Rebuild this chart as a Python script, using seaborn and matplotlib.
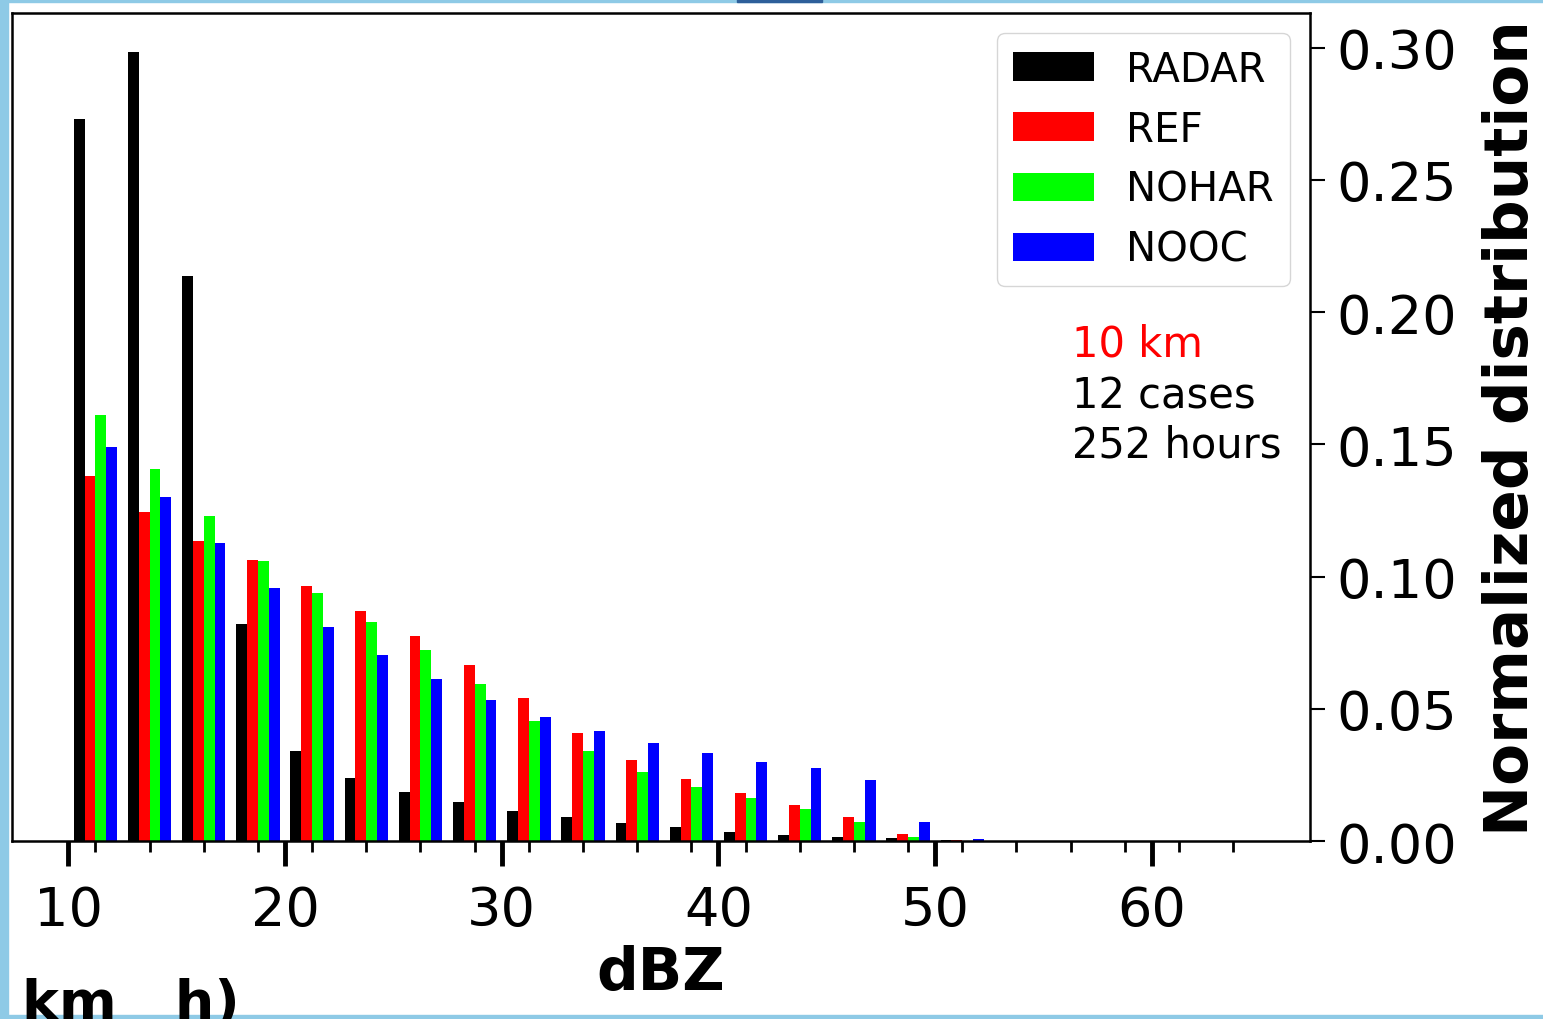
import pandas as pd
import numpy as np
import seaborn as sns
import matplotlib.pyplot as plt
from matplotlib.patches import Rectangle

# dBZ bins (left edge, 2.5 dBZ wide)
bins = [10, 12.5, 15, 17.5, 20, 22.5, 25, 27.5, 30, 32.5, 35,
        37.5, 40, 42.5, 45, 47.5, 50, 52.5, 55, 57.5, 60, 62.5]

radar = [0.273, 0.2985, 0.2138, 0.082, 0.0342, 0.0237, 0.0187, 0.0149, 0.0115, 0.0091, 0.0067,
         0.0052, 0.0033, 0.0023, 0.0014, 0.001, 0.0003, 0, 0, 0, 0, 0]
ref = [0.138, 0.1245, 0.1136, 0.1063, 0.0966, 0.0871, 0.0775, 0.0666, 0.0542, 0.0409, 0.0307,
       0.0235, 0.0182, 0.0136, 0.0089, 0.0025, 0.0002, 0, 0, 0, 0, 0]
nohar = [0.161, 0.1407, 0.123, 0.1058, 0.0938, 0.0828, 0.0723, 0.0594, 0.0455, 0.034, 0.026,
         0.0206, 0.0161, 0.0121, 0.0073, 0.0017, 0.0001, 0, 0, 0, 0, 0]
nooc = [0.149, 0.130, 0.1128, 0.0957, 0.081, 0.0704, 0.0613, 0.0535, 0.047, 0.0417, 0.0371,
        0.0332, 0.0298, 0.0275, 0.0231, 0.0073, 0.0006, 0.0001, 0, 0, 0, 0]

runs = ["RADAR", "REF", "NOHAR", "NOOC"]
colors = ["black", "red", "lime", "blue"]

centers = np.array(bins) + 1.25
data = pd.DataFrame({
    "dBZ": np.tile(centers, 4),
    "freq": radar + ref + nohar + nooc,
    "run": np.repeat(runs, len(bins)),
})

sns.set_style("ticks")
plt.rcParams["font.family"] = ["DejaVu Sans"]
plt.rcParams.update({"text.color": "black", "axes.labelcolor": "black",
                     "xtick.color": "black", "ytick.color": "black",
                     "axes.edgecolor": "black"})

fig = plt.figure(figsize=(15.43, 10.2), dpi=100)
ax = fig.add_axes([0.0078, 0.1745, 0.8412, 0.8115])

sns.barplot(data=data, x="dBZ", y="freq", hue="run", hue_order=runs,
            palette=colors, native_scale=True, width=0.8, dodge=True,
            errorbar=None, saturation=1, linewidth=0, ax=ax)

ax.set_xlim(7.4, 67.3)
ax.set_ylim(0, 0.313)
ax.set_xticks([10, 20, 30, 40, 50, 60])
ax.set_xticks(centers, minor=True)
ax.set_yticks([0, 0.05, 0.10, 0.15, 0.20, 0.25, 0.30])

ax.yaxis.tick_right()
ax.yaxis.set_label_position("right")
ax.tick_params(axis="x", which="major", direction="out", length=18, width=3.5,
               labelsize=39, pad=13, colors="black")
ax.tick_params(axis="x", which="minor", direction="out", length=8, width=2, colors="black")
ax.tick_params(axis="y", direction="out", length=11, width=1.5, labelsize=39,
               pad=8, right=True, left=False, colors="black")

for s in ax.spines.values():
    s.set_visible(True)
    s.set_linewidth(1.8)
    s.set_color("black")

ax.set_xlabel("dBZ", fontsize=42, fontweight="bold", labelpad=6, color="black")
ax.set_ylabel("Normalized distribution", fontsize=44, fontweight="bold",
              labelpad=18, color="black")

sns.move_legend(ax, "upper right", title=None, fontsize=29, frameon=True)
for t in ax.get_legend().get_texts():
    t.set_color("black")

ax.text(0.8166, 0.586, "10 km", color="red", fontsize=30, transform=ax.transAxes)
ax.text(0.8166, 0.524, "12 cases", color="black", fontsize=30, transform=ax.transAxes)
ax.text(0.8166, 0.464, "252 hours", color="black", fontsize=30, transform=ax.transAxes)

# leftover label of the neighbouring panel, cut by the page edge as in the source
fig.text(0.0143, 0.0, "km   h)", fontsize=40, fontweight="bold", va="baseline",
         color="black")

# light-blue page frame
edge = "#8ecae6"
fig.add_artist(Rectangle((0, 0), 8 / 1543, 1, transform=fig.transFigure, color=edge))
fig.add_artist(Rectangle((0, 1 - 3 / 1020), 1, 3 / 1020, transform=fig.transFigure, color=edge))
fig.add_artist(Rectangle((0, 0), 1, 4 / 1020, transform=fig.transFigure, color=edge))
fig.add_artist(Rectangle((737 / 1543, 1 - 3 / 1020), 85 / 1543, 3 / 1020,
                         transform=fig.transFigure, color="#2d5f9a"))

fig.savefig("out.png", dpi=100)
